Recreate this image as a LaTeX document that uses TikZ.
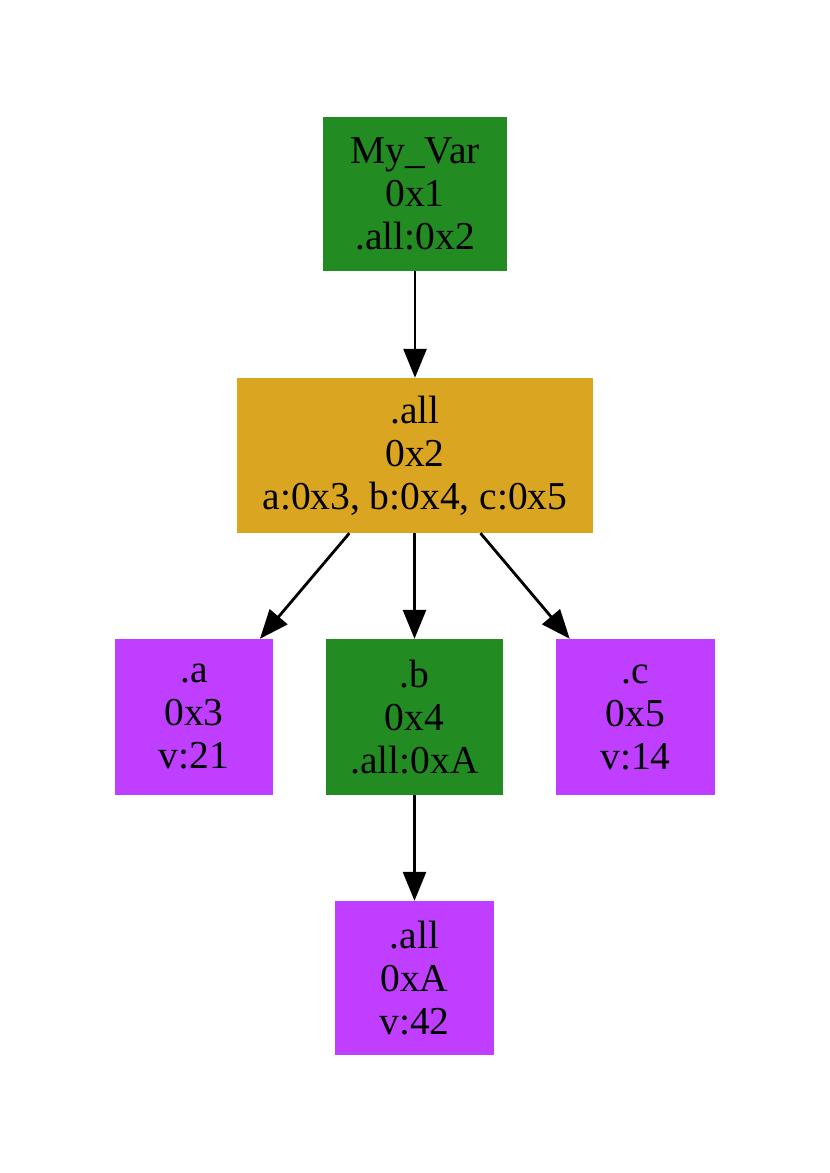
\documentclass[tikz,border=0pt]{standalone}
\usepackage{fontspec}
\setmainfont{Liberation Serif}
\usetikzlibrary{arrows.meta}
\definecolor{gvgreen}{HTML}{228B22}
\definecolor{gvgold}{HTML}{DAA520}
\definecolor{gvpurple}{HTML}{BF3EFF}
\tikzset{
  box/.style={rectangle, inner sep=0pt, align=center, font=\fontsize{39.5}{43}\selectfont},
  greenbox/.style={box, fill=gvgreen},
  goldbox/.style={box, fill=gvgold},
  purplebox/.style={box, fill=gvpurple},
  edge/.style={draw=black, line width=2.8pt, -{Triangle[length=29pt,width=23pt]}}
}
\begin{document}
\begin{tikzpicture}[x=1pt,y=-1pt]
\useasboundingbox (0,0) rectangle (830,1173);
\node[greenbox, minimum width=184pt, minimum height=154pt] (v) at (415,194) {My\_Var\\0x1\\.all:0x2};
\node[goldbox, minimum width=356pt, minimum height=155pt] (all) at (415,455.5) {.all\\0x2\\a:0x3, b:0x4, c:0x5};
\node[purplebox, minimum width=158pt, minimum height=156pt] (a) at (194,717) {.a\\0x3\\v:21};
\node[greenbox, minimum width=177pt, minimum height=156pt] (b) at (414.5,717) {.b\\0x4\\.all:0xA};
\node[purplebox, minimum width=159pt, minimum height=156pt] (c) at (635.5,717) {.c\\0x5\\v:14};
\node[purplebox, minimum width=159pt, minimum height=154pt] (allA) at (414.5,978) {.all\\0xA\\v:42};
\draw[edge] (v) -- (all);
\draw[edge] (all) -- (a);
\draw[edge] (all.south -| b) -- (b);
\draw[edge] (all) -- (c);
\draw[edge] (b) -- (allA);
\end{tikzpicture}
\end{document}
